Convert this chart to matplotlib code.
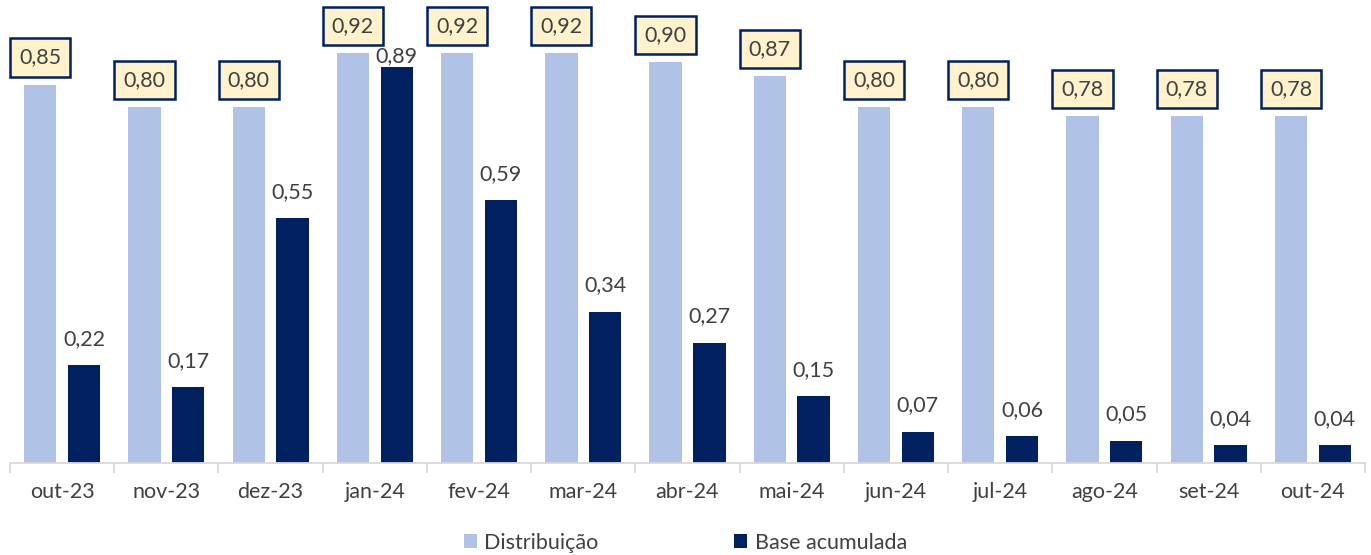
import numpy as np
import matplotlib.pyplot as plt

plt.rcParams['font.family'] = ['Lato', 'DejaVu Sans']

# dados
meses = ['out-23', 'nov-23', 'dez-23', 'jan-24', 'fev-24', 'mar-24', 'abr-24',
         'mai-24', 'jun-24', 'jul-24', 'ago-24', 'set-24', 'out-24']
distribuicao = [0.85, 0.80, 0.80, 0.92, 0.92, 0.92, 0.90, 0.87, 0.80, 0.80, 0.78, 0.78, 0.78]
base_acumulada = [0.22, 0.17, 0.55, 0.89, 0.59, 0.34, 0.27, 0.15, 0.07, 0.06, 0.05, 0.04, 0.04]

cor_clara = '#B0C3E6'
cor_escura = '#002060'
cor_texto = '#404040'

fig = plt.figure(figsize=(13.71, 5.55), dpi=100)
ax = fig.add_axes([0.0073, 0.1658, 0.9883, 0.8342])

x = np.arange(len(meses))
w = 0.31
off = 0.21
b1 = ax.bar(x - off, distribuicao, w, color=cor_clara, label='Distribuição')
b2 = ax.bar(x + off, base_acumulada, w, color=cor_escura, label='Base acumulada')

def fmt(v):
    return f'{v:.2f}'.replace('.', ',')

for xi, v in zip(x, distribuicao):
    ax.annotate(fmt(v), (xi - off, v), xytext=(0, 19.5), textcoords='offset points',
                ha='center', va='center', fontsize=15.5, color=cor_texto, clip_on=False,
                bbox=dict(boxstyle='square,pad=0.42', fc='#FFF2CC', ec=cor_escura, lw=1.8))

for xi, v in zip(x, base_acumulada):
    dy = 8 if v > 0.85 else 19
    ax.annotate(fmt(v), (xi + off, v), xytext=(0, dy), textcoords='offset points',
                ha='center', va='center', fontsize=15.5, color=cor_texto)

ax.set_xlim(-0.5, len(meses) - 0.5)
ax.set_ylim(0, 1.04)
ax.set_yticks([])
for s in ['top', 'right', 'left']:
    ax.spines[s].set_visible(False)
ax.spines['bottom'].set_color('#D9D9D9')
ax.spines['bottom'].set_linewidth(1.3)

ax.set_xticks(x)
ax.set_xticklabels(meses, fontsize=15.5, color=cor_texto)
ax.tick_params(axis='x', which='major', length=0, pad=14)
ax.set_xticks(np.arange(-0.5, len(meses)), minor=True)
ax.tick_params(axis='x', which='minor', length=7, color='#D9D9D9', width=1.3)

fig.legend(handles=[b1, b2], loc='center', bbox_to_anchor=(0.5, 0.022), ncol=2,
           frameon=False, fontsize=15.5, handlelength=0.6, handleheight=0.6,
           handletextpad=0.35, columnspacing=6.3, labelcolor=cor_texto)

fig.savefig('out.png', dpi=100)
